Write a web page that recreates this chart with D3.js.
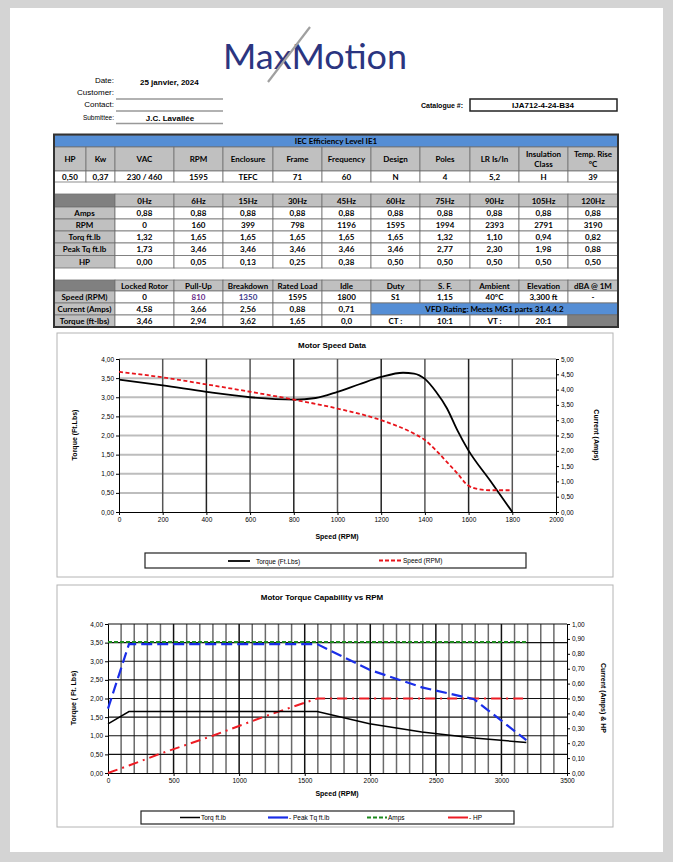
<!DOCTYPE html>
<html>
<head>
<meta charset="utf-8">
<title>MaxMotion - Motor Data</title>
<script src="https://d3js.org/d3.v7.min.js"></script>
<style>
  body { margin: 0; background: #d4d4d4; }
  svg { display: block; }
</style>
</head>
<body>
<svg width="673" height="862"></svg>
<script>
// ---- data ----
let specHeaders = ["HP", "Kw", "VAC", "RPM", "Enclosure", "Frame", "Frequency", "Design", "Poles", "LR Is/In", "Insulation\nClass", "Temp. Rise\n°C"];
let specValues = ["0,50", "0,37", "230 / 460", "1595", "TEFC", "71", "60", "N", "4", "5,2", "H", "39"];

let freqLabels = ["0Hz", "6Hz", "15Hz", "30Hz", "45Hz", "60Hz", "75Hz", "90Hz", "105Hz", "120Hz"];
let amps = [0.88, 0.88, 0.88, 0.88, 0.88, 0.88, 0.88, 0.88, 0.88, 0.88];
let rpm = [0, 160, 399, 798, 1196, 1595, 1994, 2393, 2791, 3190];
let torq = [1.32, 1.65, 1.65, 1.65, 1.65, 1.65, 1.32, 1.10, 0.94, 0.82];
let peakTq = [1.73, 3.46, 3.46, 3.46, 3.46, 3.46, 2.77, 2.30, 1.98, 0.88];
let hp = [0.00, 0.05, 0.13, 0.25, 0.38, 0.50, 0.50, 0.50, 0.50, 0.50];

let pointLabels = ["Locked Rotor", "Pull-Up", "Breakdown", "Rated Load", "Idle"];
let pointSpeed = [0, 810, 1350, 1595, 1800];
let pointCurrent = [4.58, 3.66, 2.56, 0.88, 0.71];
let pointTorque = [3.46, 2.94, 3.62, 1.65, 0.0];
let extraLabels = ["Duty", "S. F.", "Ambient", "Elevation", "dBA @ 1M"];
let extraValues = ["S1", "1,15", "40°C", "3,300 ft", "-"];

// speed curve (chart 1)
let curveRpm = [0, 200, 400, 600, 800, 900, 1000, 1100, 1200, 1300, 1350, 1400, 1450, 1500, 1550, 1595, 1700, 1800];
let curveTorque = [3.46, 3.31, 3.14, 3.00, 2.94, 2.98, 3.14, 3.34, 3.53, 3.64, 3.62, 3.48, 3.15, 2.72, 2.12, 1.65, 0.81, 0.00];
let currRpm = [0, 200, 400, 600, 810, 1000, 1200, 1350, 1400, 1450, 1500, 1550, 1595, 1650, 1700, 1800];
let curveCurrent = [4.58, 4.40, 4.17, 3.93, 3.66, 3.38, 3.00, 2.56, 2.35, 2.02, 1.64, 1.25, 0.88, 0.74, 0.71, 0.71];

const fmt2 = d => d3.format(".2f")(d).replace(".", ",");
const tableFont = "Lato, 'Open Sans', sans-serif";
const chartFont = "'Liberation Sans', Arial, sans-serif";

let svg = d3.select("svg");

// page
svg.append("rect").attr("x", 10).attr("y", 8).attr("width", 653).attr("height", 844).attr("fill", "#fff");

// ---- header / logo ----
svg.append("text").attr("x", 223).attr("y", 69)
  .attr("font-family", "Lato, 'Open Sans', sans-serif")
  .attr("font-size", 35).attr("fill", "#2b3580")
  .attr("textLength", 184).attr("lengthAdjust", "spacingAndGlyphs")
  .text("MaxMotion");
svg.append("line").attr("x1", 268).attr("y1", 82).attr("x2", 310).attr("y2", 27)
  .attr("stroke", "#a0a0a0").attr("stroke-width", 2.2);

let hdr = svg.append("g").attr("font-family", "'Liberation Sans Narrow', 'Liberation Sans', Arial, sans-serif").attr("font-size", 8);
hdr.append("text").attr("x", 114).attr("y", 83).attr("text-anchor", "end").text("Date:");
hdr.append("text").attr("x", 140).attr("y", 85).attr("font-weight", "bold").text("25 janvier, 2024");
hdr.append("text").attr("x", 114).attr("y", 95).attr("text-anchor", "end").text("Customer:");
hdr.append("text").attr("x", 114).attr("y", 107).attr("text-anchor", "end").text("Contact:");
hdr.append("text").attr("x", 114).attr("y", 120).attr("text-anchor", "end").attr("font-size", 6.5).text("Submittee:");
hdr.append("text").attr("x", 170).attr("y", 121).attr("text-anchor", "middle").attr("font-weight", "bold").text("J.C. Lavallée");
[99, 111, 123.5].forEach(y => {
  hdr.append("line").attr("x1", 116).attr("x2", 223).attr("y1", y).attr("y2", y)
    .attr("stroke", "#999").attr("stroke-width", 1.6);
});
hdr.append("text").attr("x", 463).attr("y", 107.5).attr("text-anchor", "end").attr("font-size", 7).attr("font-weight", "bold").text("Catalogue #:");
hdr.append("rect").attr("x", 470).attr("y", 99).attr("width", 147).attr("height", 12)
  .attr("fill", "#fff").attr("stroke", "#222").attr("stroke-width", 1.5);
hdr.append("text").attr("x", 543).attr("y", 108).attr("text-anchor", "middle").attr("font-weight", "bold").text("IJA712-4-24-B34");

// ---- tables ----
const edges1 = [54, 86, 115, 174, 223, 273, 322, 371, 420, 470, 519, 568, 618];
const edges2 = [54, 115, 174, 223, 273, 322, 371, 420, 470, 519, 568, 618];

let tbl = svg.append("g").attr("font-family", tableFont).attr("font-size", 8).attr("font-weight", "bold");

function cell(x0, x1, y0, y1, fill, txt, color) {
  let g = tbl.append("g");
  g.append("rect").attr("x", x0).attr("y", y0).attr("width", x1 - x0).attr("height", y1 - y0)
    .attr("fill", fill).attr("stroke", "#707070").attr("stroke-width", 0.8);
  if (txt == null || txt === "") return;
  let lines = String(txt).split("\n");
  let t = g.append("text").attr("text-anchor", "middle").attr("fill", color || "#000");
  lines.forEach((l, i) => {
    t.append("tspan").attr("x", (x0 + x1) / 2)
      .attr("y", (y0 + y1) / 2 + 3 + (i - (lines.length - 1) / 2) * 10)
      .text(l);
  });
}

function row(edges, y0, y1, values, fill, colors) {
  values.forEach((v, i) => cell(edges[i], edges[i + 1], y0, y1, fill, v, colors ? colors[i] : null));
}

// table 1
cell(54, 618, 135, 147, "#558ed5", "IEC Efficiency Level IE1");
row(edges1, 147, 171, specHeaders, "#c0c0c0");
row(edges1, 171, 182, specValues, "#fff");

// table 2
let t2y = [194, 207, 219, 231, 243, 255.5, 268];
cell(54, 115, t2y[0], t2y[1], "#808080", "");
row(edges2.slice(1), t2y[0], t2y[1], freqLabels, "#c0c0c0");
let t2rows = [
  ["Amps", amps.map(fmt2)],
  ["RPM", rpm.map(String)],
  ["Torq ft.lb", torq.map(fmt2)],
  ["Peak Tq ft.lb", peakTq.map(fmt2)],
  ["HP", hp.map(fmt2)]
];
t2rows.forEach((r, i) => {
  cell(54, 115, t2y[i + 1], t2y[i + 2], "#c0c0c0", r[0]);
  row(edges2.slice(1), t2y[i + 1], t2y[i + 2], r[1], "#fff");
});

// table 3
let t3y = [280, 291, 303, 315, 327];
cell(54, 115, t3y[0], t3y[1], "#808080", "");
row(edges2.slice(1), t3y[0], t3y[1], pointLabels.concat(extraLabels), "#c0c0c0");
cell(54, 115, t3y[1], t3y[2], "#c0c0c0", "Speed (RPM)");
row(edges2.slice(1), t3y[1], t3y[2], pointSpeed.map(String).concat(extraValues), "#fff",
  ["#000", "#6a2c8a", "#3b3b8a"]);
cell(54, 115, t3y[2], t3y[3], "#c0c0c0", "Current (Amps)");
row(edges2.slice(1), t3y[2], t3y[3], pointCurrent.map(fmt2), "#fff");
cell(371, 618, t3y[2], t3y[3], "#558ed5", "VFD Rating: Meets MG1 parts 31.4.4.2");
cell(54, 115, t3y[3], t3y[4], "#c0c0c0", "Torque (ft-lbs)");
row(edges2.slice(1), t3y[3], t3y[4], pointTorque.map(d => d === 0 ? "0,0" : fmt2(d)), "#fff");
row(edges2.slice(6), t3y[3], t3y[4], ["CT :", "10:1", "VT :", "20:1", ""], "#fff");
cell(568, 618, t3y[3], t3y[4], "#808080", "");

// outer frame
tbl.append("path").attr("d", "M54,134.5 L618,134.5 L618,327 L54,327 Z")
  .attr("fill", "none").attr("stroke", "#333").attr("stroke-width", 2);

// ---- chart helpers ----
function styleAxis(g) {
  g.attr("font-family", chartFont).attr("font-size", 6.5);
  g.selectAll("path, line").attr("stroke", "#000");
  g.selectAll("text").attr("fill", "#000");
}

// ---- chart 1: Motor Speed Data ----
let ch1 = svg.append("g");
ch1.append("rect").attr("x", 57).attr("y", 333).attr("width", 556).attr("height", 244)
  .attr("fill", "#fff").attr("stroke", "#b4b4b4");

let x1 = d3.scaleLinear().domain([0, 2000]).range([119, 556]);
let y1L = d3.scaleLinear().domain([0, 4]).range([512, 359]);
let y1R = d3.scaleLinear().domain([0, 5]).range([512, 359]);

ch1.append("g").selectAll("line").data(d3.range(0.5, 4.01, 0.5)).join("line")
  .attr("x1", x1(0)).attr("x2", x1(2000)).attr("y1", d => y1L(d)).attr("y2", d => y1L(d))
  .attr("stroke", "#bdbdbd").attr("stroke-width", 2);
ch1.append("g").selectAll("line").data(d3.range(200, 1801, 200)).join("line")
  .attr("x1", d => x1(d)).attr("x2", d => x1(d)).attr("y1", y1L(0)).attr("y2", y1L(4))
  .attr("stroke", (d, i) => i % 2 ? "#222" : "#555").attr("stroke-width", 1.5);

ch1.append("g").attr("transform", `translate(${x1(0)},0)`)
  .call(d3.axisLeft(y1L).tickValues(d3.range(0, 4.01, 0.5)).tickFormat(fmt2).tickSize(3).tickPadding(2))
  .call(styleAxis);
ch1.append("g").attr("transform", `translate(${x1(2000)},0)`)
  .call(d3.axisRight(y1R).tickValues(d3.range(0, 5.01, 0.5)).tickFormat(fmt2).tickSize(3).tickPadding(2))
  .call(styleAxis);
ch1.append("g").attr("transform", `translate(0,${y1L(0)})`)
  .call(d3.axisBottom(x1).tickValues(d3.range(0, 2001, 200)).tickFormat(d3.format("d")).tickSize(3).tickPadding(2))
  .call(styleAxis);

ch1.append("path")
  .datum(curveRpm.map((r, i) => [r, curveTorque[i]]))
  .attr("d", d3.line().x(d => x1(d[0])).y(d => y1L(d[1])).curve(d3.curveMonotoneX))
  .attr("fill", "none").attr("stroke", "#000").attr("stroke-width", 1.8);
ch1.append("path")
  .datum(currRpm.map((r, i) => [r, curveCurrent[i]]))
  .attr("d", d3.line().x(d => x1(d[0])).y(d => y1R(d[1])).curve(d3.curveMonotoneX))
  .attr("fill", "none").attr("stroke", "#e8141b").attr("stroke-width", 1.8).attr("stroke-dasharray", "4,2.5");

let t1 = ch1.append("g").attr("font-family", chartFont).attr("fill", "#000");
t1.append("text").attr("x", 332).attr("y", 348).attr("text-anchor", "middle").attr("font-size", 8).attr("font-weight", "bold").text("Motor Speed Data");
t1.append("text").attr("x", 337).attr("y", 539).attr("text-anchor", "middle").attr("font-size", 7).attr("font-weight", "bold").text("Speed (RPM)");
t1.append("text").attr("transform", "translate(77,435) rotate(-90)").attr("text-anchor", "middle").attr("font-size", 7).attr("font-weight", "bold").text("Torque (Ft.Lbs)");
t1.append("text").attr("transform", "translate(594,435) rotate(90)").attr("text-anchor", "middle").attr("font-size", 7).attr("font-weight", "bold").text("Current (Amps)");

// legend 1
let lg1 = ch1.append("g").attr("font-family", chartFont).attr("font-size", 6.5);
lg1.append("rect").attr("x", 145).attr("y", 553).attr("width", 381).attr("height", 15)
  .attr("fill", "#fff").attr("stroke", "#222").attr("stroke-width", 1.2);
lg1.append("line").attr("x1", 228).attr("x2", 250).attr("y1", 561).attr("y2", 561).attr("stroke", "#000").attr("stroke-width", 1.8);
lg1.append("text").attr("x", 256).attr("y", 563.5).text("Torque (Ft.Lbs)");
lg1.append("line").attr("x1", 379).attr("x2", 402).attr("y1", 560.5).attr("y2", 560.5).attr("stroke", "#e8141b").attr("stroke-width", 1.8).attr("stroke-dasharray", "4,2");
lg1.append("text").attr("x", 403).attr("y", 563).text("Speed (RPM)");

// ---- chart 2: Motor Torque Capability vs RPM ----
let ch2 = svg.append("g");
ch2.append("rect").attr("x", 57).attr("y", 585).attr("width", 556).attr("height", 242)
  .attr("fill", "#fff").attr("stroke", "#b4b4b4");

let x2 = d3.scaleLinear().domain([0, 3500]).range([108, 567]);
let y2L = d3.scaleLinear().domain([0, 4]).range([773, 624]);
let y2R = d3.scaleLinear().domain([0, 1]).range([773, 624]);

ch2.append("g").selectAll("line").data(d3.range(100, 3401, 100)).join("line")
  .attr("x1", d => x2(d)).attr("x2", d => x2(d)).attr("y1", y2L(0)).attr("y2", y2L(4))
  .attr("stroke", d => d % 500 === 0 ? "#111" : "#6a6a6a").attr("stroke-width", 1.5);
ch2.append("g").selectAll("line").data(d3.range(0.5, 4.01, 0.5)).join("line")
  .attr("x1", x2(0)).attr("x2", x2(3500)).attr("y1", d => y2L(d)).attr("y2", d => y2L(d))
  .attr("stroke", "#111").attr("stroke-width", 1.2);

ch2.append("g").attr("transform", `translate(${x2(0)},0)`)
  .call(d3.axisLeft(y2L).tickValues(d3.range(0, 4.01, 0.5)).tickFormat(fmt2).tickSize(3).tickPadding(2))
  .call(styleAxis);
ch2.append("g").attr("transform", `translate(${x2(3500)},0)`)
  .call(d3.axisRight(y2R).tickValues(d3.range(0, 1.001, 0.1)).tickFormat(fmt2).tickSize(3).tickPadding(2))
  .call(styleAxis);
ch2.append("g").attr("transform", `translate(0,${y2L(0)})`)
  .call(d3.axisBottom(x2).tickValues(d3.range(0, 3501, 500)).tickFormat(d3.format("d")).tickSize(3).tickPadding(2))
  .call(styleAxis);

let line2L = d3.line().x((d, i) => x2(rpm[i])).y(d => y2L(d));
let line2R = d3.line().x((d, i) => x2(rpm[i])).y(d => y2R(d));

ch2.append("path").datum(amps).attr("d", line2R)
  .attr("fill", "none").attr("stroke", "#1e8a1e").attr("stroke-width", 2).attr("stroke-dasharray", "4,2");
ch2.append("path").datum(hp).attr("d", line2R)
  .attr("fill", "none").attr("stroke", "#ee1c24").attr("stroke-width", 2).attr("stroke-dasharray", "10,5,2,5");
ch2.append("path").datum(torq).attr("d", line2L)
  .attr("fill", "none").attr("stroke", "#000").attr("stroke-width", 1.5);
ch2.append("path").datum(peakTq).attr("d", line2L)
  .attr("fill", "none").attr("stroke", "#1a2ee8").attr("stroke-width", 2.2).attr("stroke-dasharray", "11,5");

let t2 = ch2.append("g").attr("font-family", chartFont).attr("fill", "#000");
t2.append("text").attr("x", 322).attr("y", 600).attr("text-anchor", "middle").attr("font-size", 8).attr("font-weight", "bold").text("Motor Torque Capability vs RPM");
t2.append("text").attr("x", 337).attr("y", 796).attr("text-anchor", "middle").attr("font-size", 7).attr("font-weight", "bold").text("Speed (RPM)");
t2.append("text").attr("transform", "translate(76,698) rotate(-90)").attr("text-anchor", "middle").attr("font-size", 7).attr("font-weight", "bold").text("Torque ( Ft. Lbs)");
t2.append("text").attr("transform", "translate(601,698) rotate(90)").attr("text-anchor", "middle").attr("font-size", 7).attr("font-weight", "bold").text("Current (Amps) & HP");

// legend 2
let lg2 = ch2.append("g").attr("font-family", chartFont).attr("font-size", 6.5);
lg2.append("rect").attr("x", 141).attr("y", 811).attr("width", 373).attr("height", 13)
  .attr("fill", "#fff").attr("stroke", "#222").attr("stroke-width", 1.2);
let legendItems = [
  { name: "Torq ft.lb", x: 180, stroke: "#000", dash: null, w: 1.5 },
  { name: "- Peak Tq ft.lb", x: 268, stroke: "#1a2ee8", dash: null, w: 2.2 },
  { name: "Amps", x: 367, stroke: "#1e8a1e", dash: "4,2", w: 2 },
  { name: "-  HP", x: 448, stroke: "#ee1c24", dash: null, w: 2 }
];
legendItems.forEach(it => {
  lg2.append("line").attr("x1", it.x).attr("x2", it.x + 20).attr("y1", 817.5).attr("y2", 817.5)
    .attr("stroke", it.stroke).attr("stroke-width", it.w).attr("stroke-dasharray", it.dash);
  lg2.append("text").attr("x", it.x + 21).attr("y", 820).text(it.name)
    .attr("fill", "#000");
});
</script>
</body>
</html>
